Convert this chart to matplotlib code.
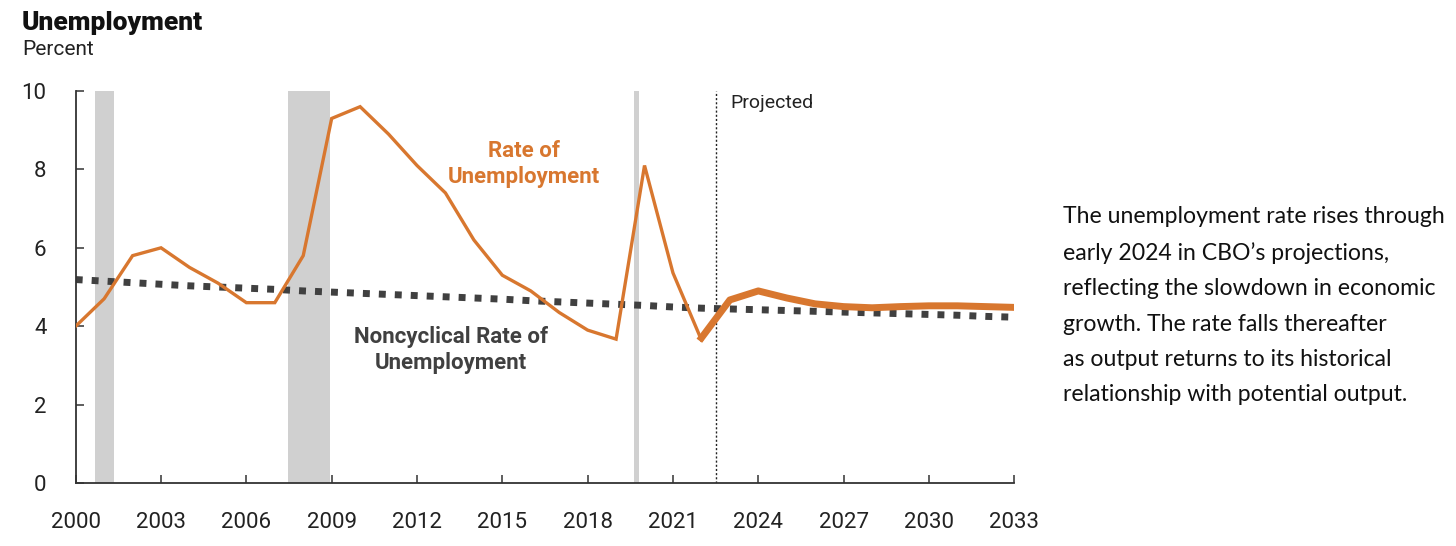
import numpy as np
import matplotlib
matplotlib.use('Agg')
import matplotlib.pyplot as plt

# unemployment rate (annual, historical) and CBO projection
hist_years = [2000, 2001, 2002, 2003, 2004, 2005, 2006, 2007, 2008, 2009, 2010,
              2011, 2012, 2013, 2014, 2015, 2016, 2017, 2018, 2019, 2020, 2021, 2022]
hist_rate = [4.0, 4.7, 5.8, 6.0, 5.5, 5.1, 4.6, 4.6, 5.8, 9.3, 9.6,
             8.9, 8.1, 7.4, 6.2, 5.3, 4.9, 4.35, 3.9, 3.67, 8.1, 5.36, 3.65]

proj_years = [2022, 2023, 2024, 2025, 2026, 2027, 2028, 2029, 2030, 2031, 2032, 2033]
proj_rate = [3.7, 4.67, 4.9, 4.72, 4.57, 4.5, 4.47, 4.5, 4.52, 4.52, 4.5, 4.48]

# noncyclical rate of unemployment
nc_years = list(range(2000, 2034))
nc_rate = [5.19, 5.15, 5.11, 5.07, 5.03, 5.00, 4.97, 4.94, 4.90, 4.87, 4.84,
           4.81, 4.78, 4.75, 4.72, 4.69, 4.65, 4.62, 4.59, 4.56, 4.53, 4.49,
           4.46, 4.44, 4.42, 4.40, 4.38, 4.36, 4.34, 4.32, 4.30, 4.28, 4.25, 4.23]

# recessions, in axis years
recessions = [(2000.68, 2001.35), (2007.45, 2008.95), (2019.63, 2019.82)]
projection_start = 2022.53

xticks = list(range(2000, 2034, 3))
yticks = [0, 2, 4, 6, 8, 10]

note = ("The unemployment rate rises through\n"
        "early 2024 in CBO\u2019s projections,\n"
        "reflecting the slowdown in economic\n"
        "growth. The rate falls thereafter\n"
        "as output returns to its historical\n"
        "relationship with potential output.")

orange = '#D8772F'
dark = '#404040'
txt = '#222222'

plt.rcParams['font.family'] = ['Roboto', 'DejaVu Sans']

fig = plt.figure(figsize=(14.56, 5.46), dpi=100)
ax = fig.add_axes([0.052, 0.1154, 0.6446, 0.7179])

for a, b in recessions:
    ax.axvspan(a, b, color='#D0D0D0', lw=0, zorder=0)

ax.plot(nc_years, nc_rate, color=dark, lw=5.0, linestyle=(0, (1, 1.3)),
        dash_capstyle='butt', zorder=2)
ax.plot(hist_years, hist_rate, color=orange, lw=2.4, zorder=3,
        solid_joinstyle='miter')
ax.plot(proj_years, proj_rate, color=orange, lw=5.0, zorder=3,
        solid_joinstyle='round')

ax.axvline(projection_start, color='#222222', lw=1.0, linestyle=(0, (1.5, 1.5)), zorder=1)
ax.text(projection_start + 0.5, 9.7, 'Projected', fontsize=14, color=txt,
        ha='left', va='center')

ax.text(2015.75, 8.14, 'Rate of\nUnemployment', color=orange, fontsize=16,
        fontweight='bold', ha='center', va='center', linespacing=1.25)
ax.text(2013.2, 3.39, 'Noncyclical Rate of\nUnemployment', color=dark, fontsize=16,
        fontweight='bold', ha='center', va='center', linespacing=1.25)

ax.set_xlim(2000, 2033)
ax.set_ylim(0, 10)
ax.set_xticks(xticks)
ax.set_yticks(yticks)
for s in ['top', 'right']:
    ax.spines[s].set_visible(False)
for s in ['left', 'bottom']:
    ax.spines[s].set_color('#333333')
    ax.spines[s].set_linewidth(1.3)
ax.tick_params(axis='both', direction='in', length=6, width=1.1, color='#333333',
               labelsize=16, labelcolor=txt)
ax.tick_params(axis='x', pad=21)
ax.tick_params(axis='y', pad=21)

fig.text(0.015, 0.957, 'Unemployment', fontsize=19, fontweight='heavy', color='#111111',
         ha='left', va='center')
fig.text(0.015, 0.91, 'Percent', fontsize=15, color=txt, ha='left', va='center')

fig.text(0.730, 0.44, note, fontsize=16.6, color='#111111', ha='left', va='center',
         linespacing=1.84, family=['Lato', 'DejaVu Sans'])

fig.savefig('out.png', dpi=100)
